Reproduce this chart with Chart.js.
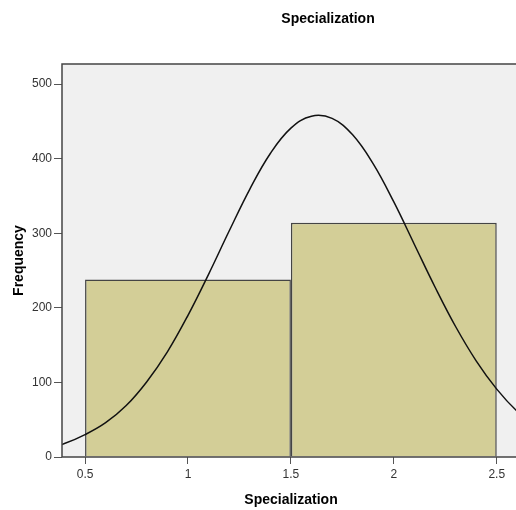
<!DOCTYPE html>
<html>
<head>
<meta charset="utf-8">
<title>Specialization</title>
<script src="https://cdn.jsdelivr.net/npm/chart.js@4"></script>
<style>
  html, body { margin: 0; padding: 0; overflow: hidden; background: #fff; }
  canvas { display: block; }
</style>
</head>
<body>
<canvas id="histChart" width="656" height="510"></canvas>
<script>
// histogram bins (centre of each bin) and their counts
const binCenters = [1, 2];
const binCounts = [238, 314];

// fitted normal curve, sampled along the x axis
const curveX = [0.3, 0.4, 0.5, 0.6, 0.7, 0.8, 0.9, 1.0, 1.1, 1.2, 1.3, 1.4, 1.5,
                1.6, 1.7, 1.8, 1.9, 2.0, 2.1, 2.2, 2.3, 2.4, 2.5, 2.6, 2.7];
const curveY = [10, 18, 30, 46, 69, 101, 141, 190, 245, 303, 359, 407, 441,
                457, 454, 432, 393, 342, 285, 228, 175, 129, 91, 61, 39];

const xTicks = [0.5, 1, 1.5, 2, 2.5];
const yTicks = [0, 100, 200, 300, 400, 500];

const chartTitle = 'Specialization';
const FONT = "'Liberation Sans', Arial, sans-serif";

// grey plot background, a frame around the plot area and the chart heading
const plotFrame = {
    id: 'plotFrame',
    beforeDatasetsDraw(chart) {
        const a = chart.chartArea;
        const c = chart.ctx;
        c.save();
        c.fillStyle = '#f0f0f0';
        c.fillRect(a.left, a.top, a.right - a.left, a.bottom - a.top);
        c.restore();
    },
    afterDatasetsDraw(chart) {
        const a = chart.chartArea;
        const c = chart.ctx;
        c.save();
        c.strokeStyle = '#444';
        c.lineWidth = 1.5;
        c.strokeRect(a.left, a.top, a.right - a.left, a.bottom - a.top);
        c.restore();
    },
    afterDraw(chart) {
        const c = chart.ctx;
        c.save();
        c.fillStyle = '#000';
        c.font = 'bold 14px ' + FONT;
        c.textAlign = 'center';
        c.textBaseline = 'middle';
        c.fillText(chartTitle, chart.width / 2, 19);
        c.restore();
    }
};

const ctx = document.getElementById('histChart');
const histChart = new Chart(ctx, {
    type: 'bar',
    data: {
        datasets: [{
            type: 'line',
            data: curveX.map((x, i) => ({ x: x, y: curveY[i] })),
            borderColor: '#111',
            borderWidth: 1.5,
            pointRadius: 0,
            tension: 0.4,
            fill: false,
            order: 1
        }, {
            type: 'bar',
            data: binCenters.map((x, i) => ({ x: x, y: binCounts[i] })),
            backgroundColor: '#d3ce97',
            borderColor: '#444',
            borderWidth: 1.5,
            // ticks every 0.5 halve the sample spacing, each bin spans a full unit
            barPercentage: 2,
            categoryPercentage: 1,
            order: 2
        }]
    },
    options: {
        responsive: false,
        animation: false,
        layout: {
            padding: { left: 0, right: 136, top: 64, bottom: 0 }
        },
        plugins: {
            legend: { display: false },
            tooltip: { enabled: false },
            title: { display: false }
        },
        scales: {
            x: {
                type: 'linear',
                min: 0.388,
                max: 2.613,
                offset: false,
                afterBuildTicks(scale) {
                    scale.ticks = xTicks.map(v => ({ value: v }));
                },
                afterFit(scale) {
                    scale.height = 53;
                },
                ticks: {
                    color: '#333',
                    font: { family: FONT, size: 12 },
                    padding: 3,
                    maxRotation: 0,
                    callback: v => String(v)
                },
                grid: {
                    offset: false,
                    drawOnChartArea: false,
                    drawTicks: true,
                    tickLength: 7,
                    tickColor: '#555'
                },
                border: { display: false },
                title: {
                    display: true,
                    text: 'Specialization',
                    color: '#000',
                    font: { family: FONT, size: 14, weight: 'bold' },
                    padding: { top: 0, bottom: 1.6 }
                }
            },
            y: {
                min: 0,
                max: 527,
                afterBuildTicks(scale) {
                    scale.ticks = yTicks.map(v => ({ value: v }));
                },
                afterFit(scale) {
                    scale.width = 62;
                },
                ticks: {
                    color: '#333',
                    font: { family: FONT, size: 12 },
                    padding: 2,
                    callback: v => String(v)
                },
                grid: {
                    drawOnChartArea: false,
                    drawTicks: true,
                    tickLength: 8,
                    tickColor: '#555'
                },
                border: { display: false },
                title: {
                    display: true,
                    text: 'Frequency',
                    color: '#000',
                    font: { family: FONT, size: 14, weight: 'bold' },
                    padding: { top: 10.6, bottom: 0 }
                }
            }
        }
    },
    plugins: [plotFrame]
});
</script>
</body>
</html>
